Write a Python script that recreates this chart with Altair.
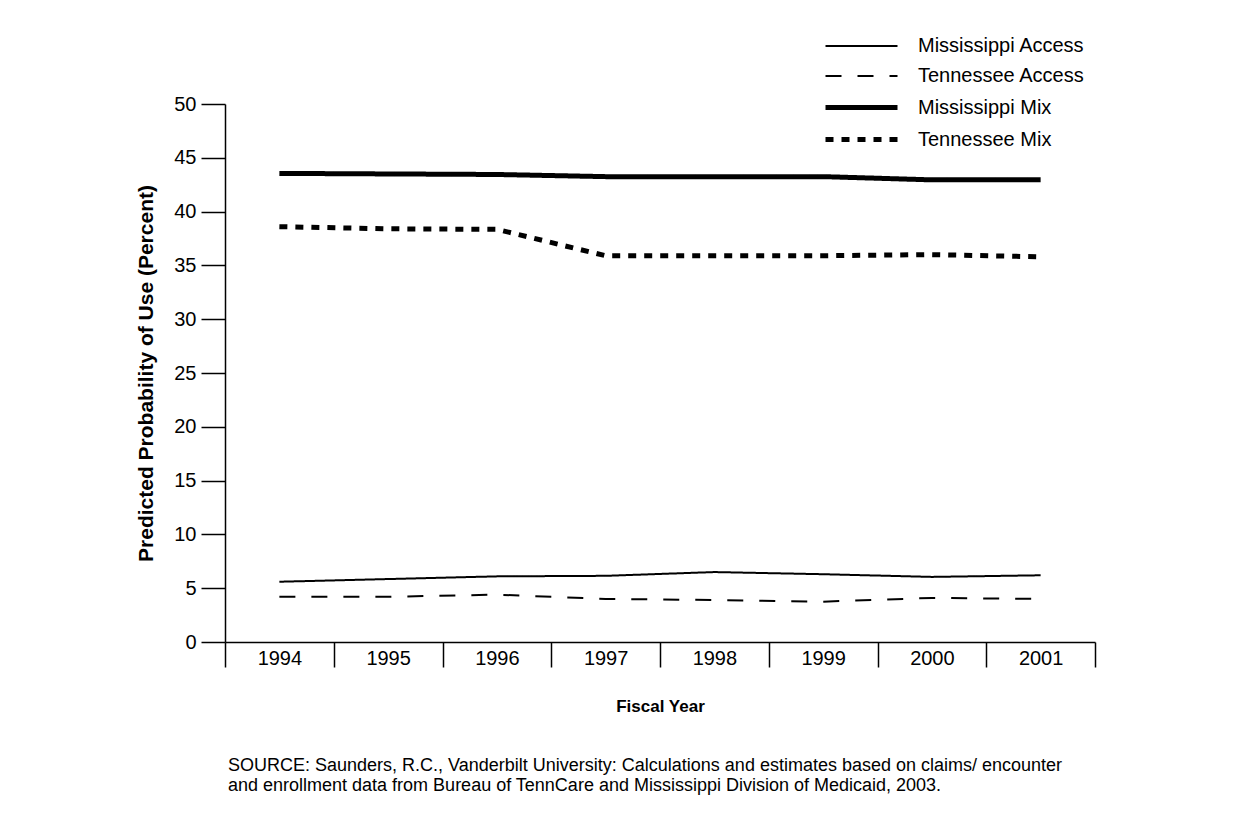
import altair as alt
import pandas as pd

years = [1994, 1995, 1996, 1997, 1998, 1999, 2000, 2001]
series_names = ["Mississippi Access", "Tennessee Access", "Mississippi Mix", "Tennessee Mix"]
ms_access = [5.6, 5.85, 6.1, 6.15, 6.5, 6.3, 6.05, 6.2]
tn_access = [4.2, 4.2, 4.4, 4.0, 3.9, 3.75, 4.1, 4.0]
ms_mix = [43.55, 43.5, 43.45, 43.25, 43.25, 43.25, 42.95, 42.95]
tn_mix = [38.6, 38.4, 38.35, 35.9, 35.9, 35.9, 36.0, 35.8]
y_ticks = [0, 5, 10, 15, 20, 25, 30, 35, 40, 45, 50]
source_lines = [
    "SOURCE: Saunders, R.C., Vanderbilt University: Calculations and estimates based on claims/ encounter",
    "and enrollment data from Bureau of TennCare and Mississippi Division of Medicaid, 2003.",
]

rows = []
for name, vals in zip(series_names, [ms_access, tn_access, ms_mix, tn_mix]):
    for yr, v in zip(years, vals):
        rows.append({"year": yr, "value": v, "series": name})
df = pd.DataFrame(rows)

FONT = "Liberation Sans"
W, H = 870, 538
band = W / len(years)
x_edges = [years[0] - 0.5 + i for i in range(len(years) + 1)]

# long horizontal stroke symbol, defined wider than the unit box so that
# legend rows stay compact while the sample line is long
legend = alt.Legend(
    title=None, orient="none", legendX=622, legendY=-71,
    symbolType="M-3,0H3", symbolSize=576, symbolStrokeColor="black",
    symbolFillColor="transparent",
    labelFont=FONT, labelFontSize=20, labelColor="black", labelOffset=42,
    labelLimit=400, rowPadding=7,
)

chart = alt.Chart(df).mark_line(color="black", strokeCap="butt").encode(
    x=alt.X("year:Q",
            scale=alt.Scale(domain=[x_edges[0], x_edges[-1]], nice=False, zero=False),
            axis=alt.Axis(values=x_edges, title="Fiscal Year",
                          labelExpr="datum.value < %s ? format(datum.value + 0.5, 'd') : ''" % years[-1],
                          labelOffset=band / 2, labelFlush=False, labelOverlap=False,
                          tickSize=25, labelPadding=-19, grid=False,
                          titleFontSize=17, titlePadding=30)),
    y=alt.Y("value:Q",
            scale=alt.Scale(domain=[0, 50], nice=False),
            axis=alt.Axis(values=y_ticks, title="Predicted Probability of Use (Percent)",
                          tickSize=24, labelPadding=5, grid=False,
                          titleFontSize=21, titlePadding=17)),
    detail="series:N",
    strokeDash=alt.StrokeDash("series:N",
                              scale=alt.Scale(type="ordinal", domain=series_names,
                                              range=[[1, 0], [16, 16], [1, 0], [8, 8]]),
                              legend=legend),
    strokeWidth=alt.StrokeWidth("series:N",
                                scale=alt.Scale(type="ordinal", domain=series_names,
                                                range=[2, 2, 5, 5]),
                                legend=legend),
).properties(
    width=W, height=H,
    title=alt.TitleParams(text=source_lines, orient="bottom", anchor="start", frame="group",
                          dx=3, font=FONT, fontSize=18, fontWeight="normal", color="black",
                          offset=43, lineHeight=20),
    padding={"left": 127, "top": 25, "right": 5, "bottom": 5},
).configure_view(stroke=None).configure_axis(
    domainColor="black", tickColor="black", domainWidth=1.5, tickWidth=1.5,
    labelFont=FONT, labelFontSize=20, labelColor="black",
    titleFont=FONT, titleFontWeight="bold", titleColor="black",
)

chart.save("out.html", embed_options={"renderer": "svg", "actions": False})
